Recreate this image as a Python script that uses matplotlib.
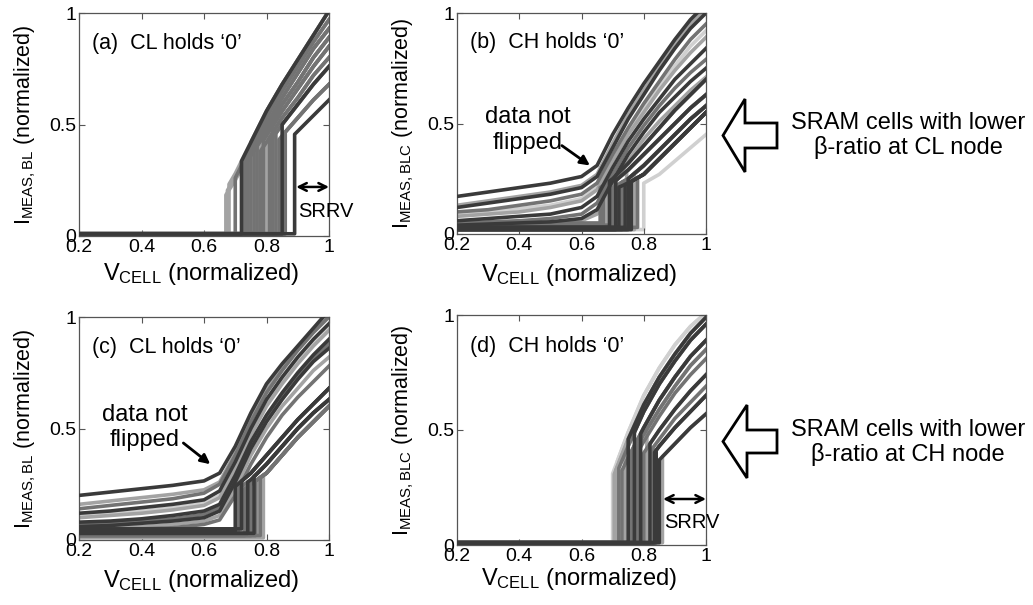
import numpy as np
import matplotlib
matplotlib.use("Agg")
import matplotlib.pyplot as plt
from matplotlib.patches import FancyArrow

plt.rcParams['font.family'] = ['Liberation Sans', 'DejaVu Sans']
plt.rcParams['mathtext.fontset'] = 'custom'
plt.rcParams['mathtext.rm'] = 'Liberation Sans'
plt.rcParams['mathtext.it'] = 'Liberation Sans:italic'

# gray levels used for the measured curves
SHADES = ['#3a3a3a', '#737373', '#a3a3a3', '#d0d0d0']

# ---- common x grids (V_CELL, normalized)
X_FULL = [0.2, 0.3, 0.4, 0.5, 0.6, 0.65, 0.7, 0.75, 0.8, 0.85, 0.9, 0.95, 1.0]
X_HIGH = [0.65, 0.7, 0.75, 0.8, 0.85, 0.9, 0.95, 1.0]

# ---- (a) CL holds '0': branches followed after the flip
A_BRANCH = [
    [0.16, 0.28, 0.42, 0.56, 0.68, 0.79, 0.90, 1.01],
    [0.15, 0.26, 0.40, 0.53, 0.65, 0.76, 0.87, 0.97],
    [0.14, 0.25, 0.38, 0.50, 0.62, 0.73, 0.84, 0.93],
    [0.13, 0.23, 0.36, 0.47, 0.59, 0.69, 0.80, 0.89],
    [0.12, 0.22, 0.34, 0.45, 0.56, 0.66, 0.76, 0.85],
    [0.11, 0.20, 0.32, 0.42, 0.53, 0.62, 0.72, 0.80],
    [0.10, 0.19, 0.30, 0.40, 0.50, 0.59, 0.68, 0.76],
    [0.09, 0.17, 0.27, 0.36, 0.45, 0.53, 0.61, 0.68],
    [0.08, 0.15, 0.24, 0.32, 0.40, 0.47, 0.54, 0.61],
]
A_FLIP = [0.67, 0.675, 0.68, 0.70, 0.73, 0.74, 0.745, 0.75, 0.76, 0.765, 0.77, 0.78, 0.785,
          0.79, 0.80, 0.81, 0.815, 0.82, 0.83, 0.84, 0.855, 0.86, 0.72, 0.85, 0.89]
A_BR = [2, 1, 0, 1, 2, 3, 1, 0, 2, 4, 3, 5, 2, 4, 3, 5, 6, 4, 6, 7, 7, 7, 0, 6, 8]
A_SHADE = [2, 2, 2, 1, 1, 1, 2, 1, 1, 2, 1, 1, 3, 1, 2, 1, 2, 1, 1, 1, 2, 1, 0, 0, 0]
A_BASE = 0.01

# ---- (b) CH holds '0'
B_UNFLIP = [
    [0.17, 0.19, 0.21, 0.23, 0.26, 0.31, 0.45, 0.57, 0.68, 0.78, 0.88, 0.97, 1.04],
    [0.13, 0.15, 0.17, 0.19, 0.22, 0.27, 0.41, 0.54, 0.65, 0.76, 0.86, 0.95, 1.02],
    [0.12, 0.14, 0.16, 0.18, 0.21, 0.26, 0.39, 0.52, 0.63, 0.74, 0.84, 0.93, 1.00],
    [0.10, 0.11, 0.13, 0.15, 0.18, 0.23, 0.36, 0.48, 0.59, 0.69, 0.79, 0.88, 0.95],
    [0.09, 0.10, 0.115, 0.13, 0.16, 0.21, 0.34, 0.46, 0.57, 0.67, 0.76, 0.85, 0.92],
    [0.08, 0.09, 0.10, 0.12, 0.15, 0.20, 0.33, 0.45, 0.55, 0.65, 0.74, 0.82, 0.89],
    [0.06, 0.07, 0.08, 0.09, 0.12, 0.17, 0.30, 0.42, 0.52, 0.61, 0.70, 0.77, 0.84],
    [0.05, 0.055, 0.06, 0.07, 0.09, 0.14, 0.27, 0.39, 0.49, 0.58, 0.66, 0.73, 0.79],
    [0.04, 0.045, 0.05, 0.055, 0.07, 0.11, 0.24, 0.36, 0.46, 0.55, 0.62, 0.69, 0.75],
    [0.03, 0.035, 0.04, 0.045, 0.06, 0.09, 0.21, 0.33, 0.43, 0.51, 0.58, 0.65, 0.71],
]
B_UNFLIP_SHADE = [0, 2, 0, 1, 3, 2, 0, 1, 0, 2]
B_BRANCH = [
    [0.20, 0.25, 0.32, 0.40, 0.48, 0.56, 0.63, 0.70],
    [0.19, 0.23, 0.29, 0.36, 0.43, 0.50, 0.57, 0.63],
    [0.18, 0.21, 0.25, 0.31, 0.38, 0.45, 0.52, 0.58],
    [0.17, 0.20, 0.23, 0.27, 0.34, 0.41, 0.48, 0.55],
    [0.15, 0.17, 0.20, 0.23, 0.27, 0.33, 0.39, 0.45],
]
B_FLIP = [0.66, 0.665, 0.67, 0.68, 0.69, 0.70, 0.705, 0.71, 0.72, 0.725, 0.73, 0.74, 0.745,
          0.75, 0.755, 0.76, 0.77, 0.78, 0.80]
B_BR = [0, 1, 1, 0, 0, 2, 1, 1, 3, 2, 2, 3, 1, 2, 3, 3, 2, 3, 4]
B_BASE = [0.05, 0.045, 0.04, 0.035, 0.03, 0.04, 0.03, 0.02, 0.03, 0.025, 0.02, 0.03, 0.02,
          0.02, 0.025, 0.02, 0.02, 0.03, 0.02]
B_SHADE = [1, 2, 1, 2, 0, 1, 2, 0, 0, 1, 1, 0, 2, 0, 1, 0, 2, 1, 3]

# ---- (c) CL holds '0'
C_UNFLIP = [
    [0.20, 0.215, 0.23, 0.245, 0.265, 0.30, 0.42, 0.57, 0.70, 0.79, 0.87, 0.95, 1.03],
    [0.16, 0.175, 0.19, 0.205, 0.225, 0.26, 0.39, 0.55, 0.68, 0.78, 0.86, 0.94, 1.01],
    [0.14, 0.155, 0.17, 0.185, 0.21, 0.25, 0.38, 0.53, 0.66, 0.76, 0.85, 0.93, 1.00],
    [0.12, 0.13, 0.145, 0.16, 0.18, 0.22, 0.35, 0.50, 0.63, 0.73, 0.82, 0.90, 0.97],
    [0.11, 0.12, 0.13, 0.145, 0.165, 0.20, 0.33, 0.48, 0.61, 0.71, 0.80, 0.88, 0.95],
    [0.10, 0.11, 0.12, 0.135, 0.155, 0.19, 0.32, 0.47, 0.60, 0.70, 0.79, 0.87, 0.94],
    [0.08, 0.085, 0.095, 0.11, 0.13, 0.16, 0.29, 0.44, 0.56, 0.66, 0.75, 0.83, 0.90],
    [0.07, 0.075, 0.085, 0.095, 0.115, 0.145, 0.27, 0.42, 0.54, 0.64, 0.73, 0.81, 0.88],
    [0.06, 0.065, 0.075, 0.085, 0.10, 0.13, 0.26, 0.41, 0.53, 0.63, 0.72, 0.80, 0.86],
    [0.05, 0.055, 0.06, 0.07, 0.085, 0.11, 0.23, 0.38, 0.50, 0.60, 0.68, 0.76, 0.82],
    [0.04, 0.045, 0.05, 0.055, 0.07, 0.09, 0.20, 0.34, 0.46, 0.56, 0.64, 0.71, 0.78],
]
C_UNFLIP_SHADE = [0, 2, 1, 0, 3, 2, 0, 1, 0, 2, 1]
C_BRANCH = [
    [0.20, 0.24, 0.30, 0.38, 0.46, 0.54, 0.61, 0.68],
    [0.18, 0.22, 0.27, 0.34, 0.42, 0.50, 0.57, 0.63],
    [0.17, 0.20, 0.25, 0.30, 0.38, 0.46, 0.53, 0.60],
]
C_FLIP = [0.70, 0.705, 0.71, 0.72, 0.725, 0.73, 0.74, 0.745, 0.75, 0.76, 0.765, 0.77, 0.78, 0.79]
C_BR = [0, 0, 1, 0, 1, 2, 1, 2, 2, 1, 2, 2, 2, 2]
C_BASE = [0.04, 0.05, 0.03, 0.05, 0.04, 0.02, 0.03, 0.025, 0.02, 0.03, 0.02, 0.02, 0.02, 0.01]
C_SHADE = [0, 1, 1, 0, 2, 1, 0, 2, 1, 0, 1, 2, 1, 2]

# ---- (d) CH holds '0'
D_BRANCH = [
    [0.20, 0.31, 0.49, 0.65, 0.77, 0.87, 0.95, 1.01],
    [0.19, 0.29, 0.46, 0.61, 0.73, 0.83, 0.92, 0.99],
    [0.18, 0.27, 0.43, 0.58, 0.70, 0.80, 0.89, 0.96],
    [0.16, 0.24, 0.38, 0.51, 0.63, 0.73, 0.82, 0.89],
    [0.15, 0.22, 0.35, 0.48, 0.59, 0.69, 0.78, 0.85],
    [0.14, 0.21, 0.33, 0.45, 0.56, 0.66, 0.74, 0.81],
    [0.12, 0.18, 0.29, 0.40, 0.50, 0.59, 0.67, 0.74],
    [0.11, 0.17, 0.27, 0.37, 0.46, 0.55, 0.62, 0.69],
    [0.10, 0.16, 0.25, 0.34, 0.43, 0.51, 0.58, 0.65],
    [0.09, 0.14, 0.22, 0.30, 0.37, 0.44, 0.51, 0.57],
]
D_FLIP = [0.70, 0.705, 0.71, 0.715, 0.72, 0.73, 0.74, 0.75, 0.755, 0.76, 0.77, 0.78, 0.79,
          0.80, 0.81, 0.82, 0.83, 0.835, 0.84, 0.85, 0.86]
D_BR = [0, 1, 1, 0, 2, 3, 2, 1, 4, 3, 2, 5, 3, 6, 4, 6, 7, 8, 8, 9, 9]
D_SHADE = [3, 2, 2, 3, 1, 1, 2, 0, 1, 1, 0, 1, 0, 1, 2, 0, 1, 0, 0, 0, 2]
D_BASE = 0.01

PANEL_TITLES = ["(a)  CL holds \u20180\u2019", "(b)  CH holds \u20180\u2019",
                "(c)  CL holds \u20180\u2019", "(d)  CH holds \u20180\u2019"]
YLABELS = [r"$\mathrm{I_{MEAS,BL}}$ (normalized)", r"$\mathrm{I_{MEAS,BLC}}$ (normalized)",
           r"$\mathrm{I_{MEAS,BL}}$ (normalized)", r"$\mathrm{I_{MEAS,BLC}}$ (normalized)"]
XLABEL = r"$\mathrm{V_{CELL}}$ (normalized)"
NOTE_TEXT = ["SRAM cells with lower\n\u03b2-ratio at CL node",
             "SRAM cells with lower\n\u03b2-ratio at CH node"]

LW = 2.6


def draw_unflipped(ax, curves, shades):
    for ys, sh in zip(curves, shades):
        ax.plot(X_FULL, ys, color=SHADES[sh], lw=LW, zorder=3 - sh * 0.5)


def draw_flipped(ax, branches, flips, br_idx, shades, bases):
    xh = np.array(X_HIGH)
    for k, (vf, bi, sh) in enumerate(zip(flips, br_idx, shades)):
        br = np.array(branches[bi])
        base = bases[k] if isinstance(bases, list) else bases
        top = np.interp(vf, xh, br)
        keep = xh > vf
        xs = np.concatenate([[0.2, vf, vf], xh[keep]])
        ys = np.concatenate([[base, base, top], br[keep]])
        ax.plot(xs, ys, color=SHADES[sh], lw=LW, zorder=3 - sh * 0.5)


fig = plt.figure(figsize=(10.33, 6.05), dpi=100)
W, H = 1033.0, 605.0
# axes boxes in pixels: left, top, right, bottom
boxes = [(79, 13, 329, 236), (457, 13, 706, 234), (79, 317, 329, 540), (457, 315, 706, 545)]
xlabel_y = [-0.11, -0.125, -0.125, -0.09]
axes = []
for (l, t, r, b) in boxes:
    ax = fig.add_axes([l / W, 1 - b / H, (r - l) / W, (b - t) / H])
    axes.append(ax)

draw_flipped(axes[0], A_BRANCH, A_FLIP, A_BR, A_SHADE, A_BASE)
draw_unflipped(axes[1], B_UNFLIP, B_UNFLIP_SHADE)
draw_flipped(axes[1], B_BRANCH, B_FLIP, B_BR, B_SHADE, B_BASE)
draw_unflipped(axes[2], C_UNFLIP, C_UNFLIP_SHADE)
draw_flipped(axes[2], C_BRANCH, C_FLIP, C_BR, C_SHADE, C_BASE)
draw_flipped(axes[3], D_BRANCH, D_FLIP, D_BR, D_SHADE, D_BASE)

for i, ax in enumerate(axes):
    ax.set_xlim(0.2, 1.0)
    ax.set_ylim(0, 1)
    ax.set_xticks([0.2, 0.4, 0.6, 0.8, 1.0])
    ax.set_xticklabels(["0.2", "0.4", "0.6", "0.8", "1"])
    ax.set_yticks([0, 0.5, 1])
    ax.set_yticklabels(["0", "0.5", "1"])
    ax.tick_params(direction='in', length=4, width=0.8, top=True, right=True,
                   labelsize=14, pad=2, color='#555555')
    for sp in ax.spines.values():
        sp.set_color('#555555')
        sp.set_linewidth(0.9)
    ax.set_xlabel(XLABEL, fontsize=17)
    ax.xaxis.set_label_coords(0.49, xlabel_y[i])
    ax.set_ylabel(YLABELS[i], fontsize=15.5)
    ax.yaxis.set_label_coords(-0.165, 0.5)
    ax.text(0.052, 0.865, PANEL_TITLES[i], transform=ax.transAxes,
            fontsize=15.5, va='center', ha='left', zorder=10)

# SRRV markers
for ax, x0, ya, yt in [(axes[0], 0.895, 0.22, 0.11), (axes[3], 0.862, 0.20, 0.10)]:
    ax.annotate('', xy=(1.0, ya), xytext=(x0, ya),
                arrowprops=dict(arrowstyle='<->', lw=1.8, color='black',
                                shrinkA=0, shrinkB=0, mutation_scale=14),
                annotation_clip=False)
    ax.text(x0 + 0.005, yt, 'SRRV', fontsize=14.5, va='center', ha='left', clip_on=False)

# "data not flipped" notes
for ax, tx, ty1, ty2, a0, a1 in [(axes[1], 0.428, 0.53, 0.41, (0.537, 0.40), (0.627, 0.31)),
                                 (axes[2], 0.409, 0.56, 0.45, (0.534, 0.435), (0.62, 0.34))]:
    ax.text(tx, ty1, 'data not', fontsize=17, ha='center', va='center', zorder=10)
    ax.text(tx, ty2, 'flipped', fontsize=17, ha='center', va='center', zorder=10)
    ax.annotate('', xy=a1, xytext=a0,
                arrowprops=dict(arrowstyle='-|>', lw=2.0, color='black',
                                shrinkA=0, shrinkB=0, mutation_scale=14), zorder=10)

# right-side hollow block arrows and notes (overlay in pixel coordinates)
ov = fig.add_axes([0, 0, 1, 1], facecolor='none')
ov.set_xlim(0, W)
ov.set_ylim(H, 0)
ov.axis('off')
for (tail_x, cy, shaft, head_w, head_l), note, ny in [((777, 135.5, 25, 73, 22), NOTE_TEXT[0], 135.5),
                                                       ((777, 441.5, 23, 73, 24), NOTE_TEXT[1], 442.5)]:
    tip_x = 723
    ov.add_patch(FancyArrow(tail_x, cy, tip_x - tail_x, 0, width=shaft, head_width=head_w,
                            head_length=head_l, length_includes_head=True,
                            facecolor='white', edgecolor='black', lw=2.0))
    ov.text(908, ny, note, fontsize=17, ha='center', va='center', linespacing=1.1)

fig.savefig('out.png', dpi=100)
